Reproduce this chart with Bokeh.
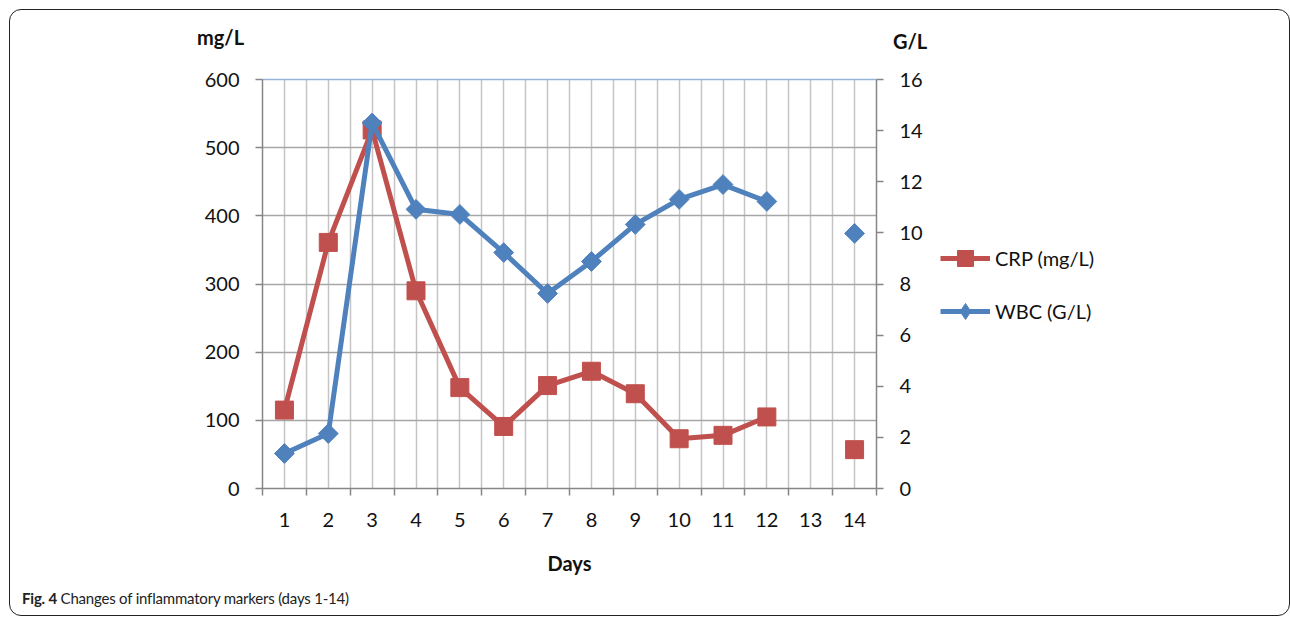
import math
from bokeh.plotting import figure
from bokeh.layouts import column, row
from bokeh.models import (Range1d, LinearAxis, FixedTicker, Legend, LegendItem,
                          Div, ColumnDataSource)
from bokeh.embed import file_html
from bokeh.resources import INLINE

nan = float("nan")

# ---- data ----
days = [1, 2, 3, 4, 5, 6, 7, 8, 9, 10, 11, 12, 13, 14]
day_labels = [str(d) for d in days]
crp = [115, 361, 526, 290, 148, 91, 151, 172, 139, 73, 78, 105, nan, 57]
wbc = [1.37, 2.15, 14.3, 10.92, 10.72, 9.23, 7.63, 8.88, 10.33, 11.31, 11.89, 11.23, nan, 9.98]
crp_ticks = [0, 100, 200, 300, 400, 500, 600]
wbc_ticks = [0, 2, 4, 6, 8, 10, 12, 14, 16]
series_names = ["CRP (mg/L)", "WBC (G/L)"]
left_unit = "mg/L"
right_unit = "G/L"
x_title = "Days"
caption_bold = "Fig. 4"
caption_text = "Changes of inflammatory markers (days 1-14)"

RED = "#C0504D"
BLUE = "#4F81BD"
FONT = "Lato"

src = ColumnDataSource(dict(day=days, crp=crp, wbc=wbc))

p = figure(frame_width=614, frame_height=409,
           min_border_left=252, min_border_right=52,
           min_border_top=20, min_border_bottom=100,
           x_range=Range1d(days[0] - 0.5, days[-1] + 0.5),
           y_range=Range1d(crp_ticks[0], crp_ticks[-1]),
           output_backend="svg", toolbar_location=None,
           background_fill_color="white", border_fill_color="white")
p.outline_line_color = None

p.extra_y_ranges = {"wbc": Range1d(wbc_ticks[0], wbc_ticks[-1])}

centers = days
bounds = [d - 0.5 for d in days] + [days[-1] + 0.5]

# x axis
xa = p.xaxis[0]
xa.ticker = FixedTicker(ticks=centers, minor_ticks=bounds)
xa.major_label_overrides = {d: lab for d, lab in zip(days, day_labels)}
xa.major_tick_line_color = None
xa.major_tick_out = 0
xa.major_tick_in = 0
xa.minor_tick_out = 7
xa.minor_tick_in = 0
xa.minor_tick_line_color = "#868686"
xa.minor_tick_line_width = 1.5
xa.axis_line_color = "#868686"
xa.axis_line_width = 1.5
xa.major_label_standoff = 17
xa.major_label_text_font = FONT
xa.major_label_text_font_size = "20px"
xa.major_label_text_color = "#111"
xa.axis_label = x_title
xa.axis_label_text_font = FONT
xa.axis_label_text_font_style = "bold"
xa.axis_label_text_font_size = "20px"
xa.axis_label_text_color = "#111"
xa.axis_label_standoff = 21

# left axis
ya = p.yaxis[0]
ya.ticker = FixedTicker(ticks=crp_ticks, minor_ticks=[])
ya.major_tick_out = 7
ya.major_tick_in = 0
ya.minor_tick_line_color = None
ya.major_tick_line_color = "#868686"
ya.major_tick_line_width = 1.5
ya.axis_line_color = "#868686"
ya.axis_line_width = 1.5
ya.major_label_standoff = 16
ya.major_label_text_font = FONT
ya.major_label_text_font_size = "20px"
ya.major_label_text_color = "#111"

# right axis
ra = LinearAxis(y_range_name="wbc", ticker=FixedTicker(ticks=wbc_ticks, minor_ticks=[]))
ra.major_tick_out = 7
ra.major_tick_in = 0
ra.minor_tick_line_color = None
ra.major_tick_line_color = "#868686"
ra.major_tick_line_width = 1.5
ra.axis_line_color = "#868686"
ra.axis_line_width = 1.5
ra.major_label_standoff = 16
ra.major_label_text_font = FONT
ra.major_label_text_font_size = "20px"
ra.major_label_text_color = "#111"
p.add_layout(ra, "right")

# top (secondary horizontal) axis line, light blue
ta = LinearAxis(ticker=FixedTicker(ticks=[]))
ta.axis_line_color = "#95B3D7"
ta.axis_line_width = 1.5
ta.major_tick_line_color = None
ta.minor_tick_line_color = None
ta.major_label_text_font_size = "0px"
p.add_layout(ta, "above")

# grid
p.xgrid.ticker = FixedTicker(ticks=centers, minor_ticks=bounds)
p.xgrid.grid_line_color = "#c4c4c4"
p.xgrid.grid_line_width = 1.5
p.xgrid.minor_grid_line_color = "#c4c4c4"
p.xgrid.minor_grid_line_width = 1.5
p.ygrid.ticker = FixedTicker(ticks=crp_ticks)
p.ygrid.grid_line_color = "#a6a6a6"
p.ygrid.grid_line_width = 1.5

# series
p.line("day", "crp", source=src, line_color=RED, line_width=5)
p.scatter("day", "crp", source=src, marker="square", size=18,
          fill_color=RED, line_color=RED, line_width=1)
p.line("day", "wbc", source=src, line_color=BLUE, line_width=5, y_range_name="wbc")
p.scatter("day", "wbc", source=src, marker="square", angle=math.pi / 4,
          size=14, fill_color=BLUE, line_color=BLUE, line_width=1, y_range_name="wbc")

# ---- legend panel (separate canvas to the right of the chart) ----
lg = figure(width=340, height=529, min_border=0,
            x_range=Range1d(0, 1), y_range=Range1d(0, 1),
            x_axis_location=None, y_axis_location=None,
            output_backend="svg", toolbar_location=None,
            background_fill_color="white", border_fill_color="white")
lg.outline_line_color = None
lg.grid.visible = False
proxy = ColumnDataSource(dict(x=[nan], y=[nan]))
l1 = lg.line("x", "y", source=proxy, line_color=RED, line_width=5)
m1 = lg.scatter("x", "y", source=proxy, marker="square", fill_color=RED, line_color=RED)
l2 = lg.line("x", "y", source=proxy, line_color=BLUE, line_width=5)
m2 = lg.scatter("x", "y", source=proxy, marker="diamond", fill_color=BLUE, line_color=BLUE)

legend = Legend(items=[LegendItem(label=series_names[0], renderers=[l1, m1]),
                       LegendItem(label=series_names[1], renderers=[l2, m2])],
                location=(12, 157), padding=0, margin=0, spacing=13,
                glyph_width=50, glyph_height=40, label_height=40,
                label_standoff=5,
                border_line_color=None, background_fill_alpha=0,
                label_text_font=FONT, label_text_font_size="20px",
                label_text_color="#111")
lg.add_layout(legend, "center")

# unit titles above the axes
header = Div(
    text=('<div style="position:relative;width:1270px;height:49px;font-family:Lato;'
          'font-weight:bold;font-size:20px;color:#111;">'
          f'<span style="position:absolute;left:187px;top:13px;">{left_unit}</span>'
          f'<span style="position:absolute;left:883px;top:17px;">{right_unit}</span></div>'),
    width=1270, height=49, margin=0)

# figure caption
caption = Div(
    text=('<div style="font-family:Lato,sans-serif;font-size:15px;letter-spacing:-0.2px;'
          'color:#222;padding-left:12px;white-space:nowrap;line-height:20px;">'
          f'<b>{caption_bold}</b> {caption_text}</div>'),
    width=1270, height=27, margin=0)

layout = column(header, row(p, lg, spacing=0), caption, spacing=0, width=1281,
                styles={"border": "1.5px solid #222", "border-radius": "12px",
                        "margin-left": "9px", "margin-top": "9px",
                        "background": "white"})

open("out.html", "w").write(file_html(layout, INLINE))
